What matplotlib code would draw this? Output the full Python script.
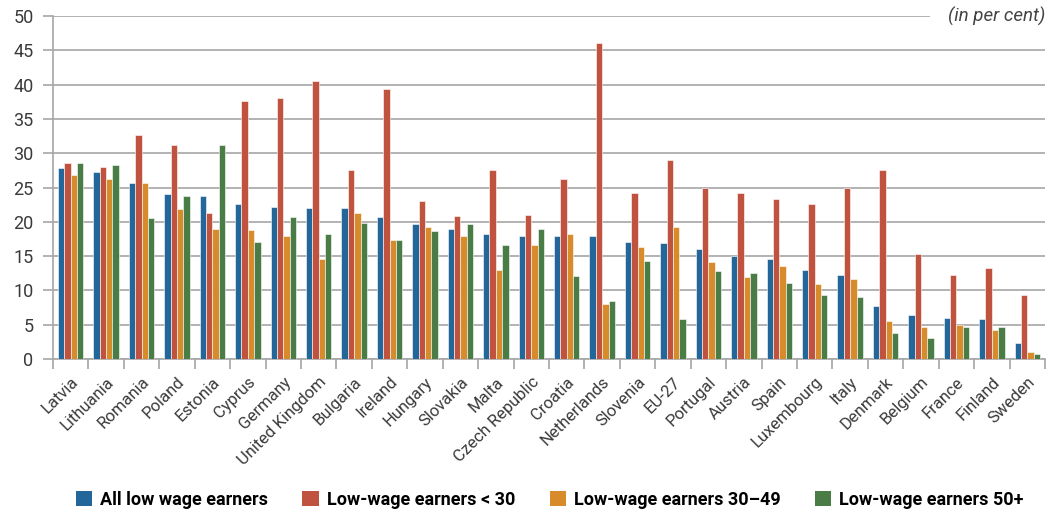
import numpy as np
import matplotlib
matplotlib.use("Agg")
import matplotlib.pyplot as plt
from matplotlib.patches import Patch

countries = [
    "Latvia", "Lithuania", "Romania", "Poland", "Estonia", "Cyprus",
    "Germany", "United Kingdom", "Bulgaria", "Ireland", "Hungary",
    "Slovakia", "Malta", "Czech Republic", "Croatia", "Netherlands",
    "Slovenia", "EU-27", "Portugal", "Austria", "Spain", "Luxembourg",
    "Italy", "Denmark", "Belgium", "France", "Finland", "Sweden",
]

all_low = [27.8, 27.2, 25.6, 24.1, 23.8, 22.6, 22.1, 22.0, 22.0, 20.7,
           19.7, 19.0, 18.2, 18.0, 18.0, 18.0, 17.1, 16.9, 16.1, 15.0,
           14.6, 13.0, 12.3, 7.7, 6.4, 6.0, 5.9, 2.4]
under_30 = [28.5, 28.0, 32.7, 31.2, 21.3, 37.6, 38.1, 40.5, 27.6, 39.3,
            23.1, 20.8, 27.6, 21.0, 26.2, 46.0, 24.2, 29.0, 24.9, 24.2,
            23.3, 22.6, 24.9, 27.6, 15.3, 12.3, 13.2, 9.4]
age_30_49 = [26.8, 26.2, 25.6, 21.8, 19.0, 18.8, 17.9, 14.6, 21.3, 17.4,
             19.3, 17.9, 13.0, 16.6, 18.2, 8.0, 16.3, 19.2, 14.1, 11.9,
             13.5, 10.9, 11.6, 5.5, 4.7, 4.9, 4.2, 1.0]
age_50_plus = [28.6, 28.3, 20.5, 23.8, 31.2, 17.1, 20.7, 18.2, 19.8, 17.4,
               18.7, 19.7, 16.6, 19.0, 12.1, 8.5, 14.3, 5.9, 12.8, 12.5,
               11.1, 9.3, 9.1, 3.8, 3.0, 4.7, 4.6, 0.7]

series_names = ["All low wage earners", "Low-wage earners < 30",
                "Low-wage earners 30\u201349", "Low-wage earners 50+"]
colors = ["#23679a", "#c0533f", "#d88b2a", "#4a7c45"]

plt.rcParams["font.family"] = ["Roboto", "DejaVu Sans"]

fig = plt.figure(figsize=(10.51, 5.13), dpi=100)
ax = fig.add_axes([0.0504, 0.3002, 0.9439, 0.6686])

x = np.arange(len(countries))
w = 0.18
for i, vals in enumerate([all_low, under_30, age_30_49, age_50_plus]):
    ax.bar(x + (i - 1.5) * w, vals, width=w, color=colors[i],
           edgecolor="white", linewidth=0.4, zorder=3)

ax.set_xlim(-0.5, len(countries) - 0.5)
ax.set_ylim(0, 50)
ax.set_yticks(np.arange(0, 51, 5))
ax.yaxis.grid(True, color="#a6a6a6", linewidth=1.2, zorder=0)
ax.set_axisbelow(True)

for s in ["top", "right"]:
    ax.spines[s].set_visible(False)
for s in ["left", "bottom"]:
    ax.spines[s].set_color("#a6a6a6")
    ax.spines[s].set_linewidth(1.2)

ax.tick_params(axis="y", length=7, color="#a6a6a6", width=1.2,
               labelsize=13, labelcolor="#3a3a3a", pad=7)
ax.set_xticks(x)
ax.set_xticklabels(countries, rotation=45, ha="right",
                   rotation_mode="anchor", fontsize=12, color="#3a3a3a")
ax.tick_params(axis="x", which="major", length=0, pad=11)
ax.set_xticks(np.arange(-0.5, len(countries), 1), minor=True)
ax.tick_params(axis="x", which="minor", length=7, color="#a6a6a6",
               width=1.2)

ax.text(1.0, 1.0, "(in per cent)", transform=ax.transAxes, ha="right",
        va="center", fontsize=13.5, style="italic", color="#444444",
        bbox=dict(facecolor="white", edgecolor="none", pad=13), zorder=5)

handles = [Patch(facecolor=c, edgecolor="none") for c in colors]
fig.legend(handles, series_names, loc="center", ncol=4,
           bbox_to_anchor=(0.523, 0.025), frameon=False,
           prop={"weight": "bold", "size": 13}, handlelength=0.9,
           handleheight=0.9, handletextpad=0.45, columnspacing=1.9)

fig.savefig("out.png", dpi=100)
